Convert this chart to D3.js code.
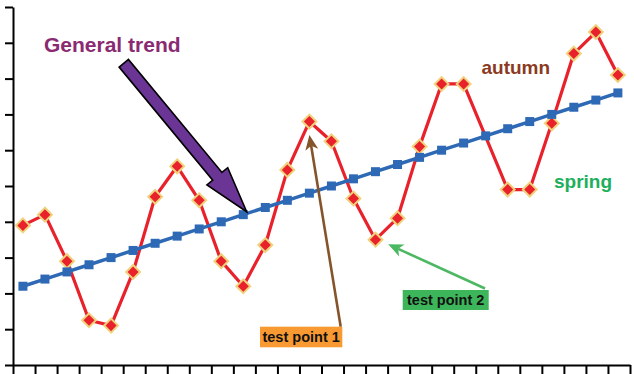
<!DOCTYPE html>
<html>
<head>
<meta charset="utf-8">
<script src="https://cdn.jsdelivr.net/npm/d3@7"></script>
<style>
  html, body { margin: 0; padding: 0; background: #fff; }
  svg { display: block; }
  text { font-family: "Liberation Sans", Arial, sans-serif; font-weight: bold; }
</style>
</head>
<body>
<svg id="chart" width="634" height="374"></svg>
<script>
// Periods along the horizontal axis
const periods = [1, 2, 3, 4, 5, 6, 7, 8, 9, 10, 11, 12, 13, 14, 15, 16, 17, 18, 19, 20, 21, 22, 23, 24, 25, 26, 27, 28];

// Linear general trend (blue)
const trend = [2.2, 2.4, 2.6, 2.8, 3.0, 3.2, 3.4, 3.6, 3.8, 4.0, 4.2, 4.4, 4.6, 4.8,
               5.0, 5.2, 5.4, 5.6, 5.8, 6.0, 6.2, 6.4, 6.6, 6.8, 7.0, 7.2, 7.4, 7.6];

// Seasonal observations (red); null = no marker for that period
const seasonal = [3.9, 4.2, 2.9, 1.25, 1.1, 2.6, 4.7, 5.55, 4.6, 2.9, 2.2, 3.35, 5.45, 6.8,
                  6.25, 4.65, 3.5, 4.1, 6.1, 7.85, 7.85, null, 4.9, 4.9, 6.75, 8.7, 9.3, 8.1];

// Axis tick values (no labels drawn)
const yTicks = [0, 1, 2, 3, 4, 5, 6, 7, 8, 9, 10];
const xTicks = [0, 1, 2, 3, 4, 5, 6, 7, 8, 9, 10, 11, 12, 13, 14, 15, 16, 17, 18, 19,
                20, 21, 22, 23, 24, 25, 26, 27, 28];

const svg = d3.select("#chart");

const xAxisScale = d3.scaleLinear().domain([0, periods.length]).range([13, 630]);
const y = d3.scaleLinear().domain([0, 10]).range([365, 7]);
const px = i => xAxisScale(i + 0.45);

// Axes
const yAxis = svg.append("g")
  .attr("transform", "translate(13,0)")
  .call(d3.axisLeft(y).tickValues(yTicks).tickSize(8).tickSizeOuter(0).tickFormat(""));
const xAxis = svg.append("g")
  .attr("transform", "translate(0,365)")
  .call(d3.axisBottom(xAxisScale).tickValues(xTicks).tickSize(9).tickSizeOuter(0).tickFormat(""));
[yAxis, xAxis].forEach(g => {
  g.selectAll("path, line").attr("stroke", "#000").attr("stroke-width", 2);
});

// Seasonal series
const seasonalPts = seasonal.map((v, i) => ({ i, v })).filter(d => d.v !== null);
svg.append("path")
  .datum(seasonalPts)
  .attr("fill", "none")
  .attr("stroke", "#e8212b")
  .attr("stroke-width", 3.2)
  .attr("stroke-linejoin", "round")
  .attr("d", d3.line().x(d => px(d.i)).y(d => y(d.v)));
svg.append("g").selectAll("path")
  .data(seasonalPts)
  .join("path")
  .attr("transform", d => `translate(${px(d.i)},${y(d.v)}) rotate(45)`)
  .attr("d", d3.symbol(d3.symbolSquare, 96)())
  .attr("fill", "#e8212b")
  .attr("stroke", "#f1d27c")
  .attr("stroke-width", 2);

// Trend series
const trendPts = trend.map((v, i) => ({ i, v }));
svg.append("path")
  .datum(trendPts)
  .attr("fill", "none")
  .attr("stroke", "#2e69b5")
  .attr("stroke-width", 3.5)
  .attr("d", d3.line().x(d => px(d.i)).y(d => y(d.v)));
svg.append("g").selectAll("rect")
  .data(trendPts)
  .join("rect")
  .attr("x", d => px(d.i) - 4.5)
  .attr("y", d => y(d.v) - 4.5)
  .attr("width", 9)
  .attr("height", 9)
  .attr("fill", "#2e69b5");

// Thin arrow with a notched head
function thinArrow(x0, y0, x1, y1, color) {
  const dx = x1 - x0, dy = y1 - y0, len = Math.hypot(dx, dy);
  const ux = dx / len, uy = dy / len, nx = -uy, ny = ux;
  const L = 15, W = 6.5, N = 11;
  svg.append("line")
    .attr("x1", x0).attr("y1", y0)
    .attr("x2", x1 - ux * N).attr("y2", y1 - uy * N)
    .attr("stroke", color).attr("stroke-width", 2.6);
  const bx = x1 - ux * L, by = y1 - uy * L;
  svg.append("path")
    .attr("d", `M${x1},${y1} L${bx + nx * W},${by + ny * W} L${x1 - ux * N},${y1 - uy * N} L${bx - nx * W},${by - ny * W} Z`)
    .attr("fill", color);
}

// Block arrow for the trend callout
function blockArrow(x0, y0, x1, y1) {
  const dx = x1 - x0, dy = y1 - y0, len = Math.hypot(dx, dy);
  const ux = dx / len, uy = dy / len, nx = -uy, ny = ux;
  const sw = 6, hw = 13.5, hl = 46;
  const bx = x1 - ux * hl, by = y1 - uy * hl;
  const pts = [
    [x0 + nx * sw, y0 + ny * sw],
    [bx + nx * sw, by + ny * sw],
    [bx + nx * hw, by + ny * hw],
    [x1, y1],
    [bx - nx * hw, by - ny * hw],
    [bx - nx * sw, by - ny * sw],
    [x0 - nx * sw, y0 - ny * sw]
  ];
  svg.append("path")
    .attr("d", "M" + pts.map(p => p.join(",")).join("L") + "Z")
    .attr("fill", "#6b3595")
    .attr("stroke", "#000")
    .attr("stroke-width", 1.6)
    .attr("stroke-linejoin", "miter");
}

blockArrow(123.8, 63.3, px(10) + 3.4, y(trend[10]) - 2.9);
thinArrow(340.7, 326.7, px(13), y(seasonal[13]) + 13.4, "#85542a");
thinArrow(485, 288.5, px(16) + 12.7, y(seasonal[16]) + 4.6, "#4cb862");

// Text labels
svg.append("text").attr("x", 44).attr("y", 52).attr("font-size", 21)
  .attr("fill", "#8a2a72").text("General trend");
svg.append("text").attr("x", 481.5).attr("y", 74).attr("font-size", 19)
  .attr("fill", "#8b3a1f").text("autumn");
svg.append("text").attr("x", 554).attr("y", 188).attr("font-size", 19)
  .attr("fill", "#1daf5c").text("spring");

// Boxed callouts
function callout(x, yTop, w, h, fill, label) {
  svg.append("rect").attr("x", x).attr("y", yTop).attr("width", w).attr("height", h).attr("fill", fill);
  svg.append("text").attr("x", x + w / 2).attr("y", yTop + h - 5).attr("text-anchor", "middle")
    .attr("font-size", 14.5).attr("fill", "#111").text(label);
}
callout(260, 326.7, 82.3, 20.6, "#f89a31", "test point 1");
callout(402.7, 290, 86, 20, "#3db55a", "test point 2");
</script>
</body>
</html>
